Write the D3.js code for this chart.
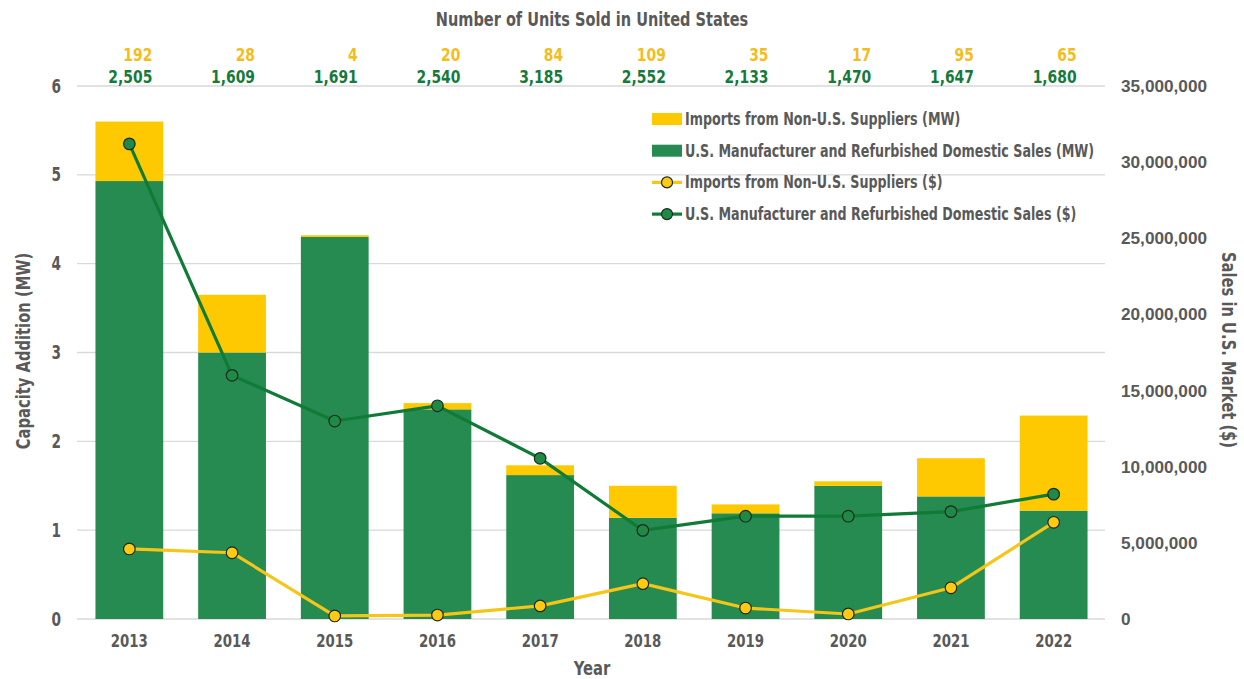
<!DOCTYPE html>
<html><head><meta charset="utf-8">
<script src="https://cdn.jsdelivr.net/npm/d3@7"></script>
<style>
body{margin:0;background:#fff;}
text{font-family:'DejaVu Sans Condensed','Liberation Sans Narrow',sans-serif;font-weight:bold;}
</style></head><body>
<svg id="c" width="1244" height="679"></svg>
<script>
const years = ["2013","2014","2015","2016","2017","2018","2019","2020","2021","2022"];
const domesticMW = [4.93, 3.00, 4.30, 2.36, 1.62, 1.14, 1.19, 1.50, 1.38, 1.22];
const importsMW  = [0.67, 0.65, 0.02, 0.07, 0.11, 0.36, 0.10, 0.05, 0.43, 1.07];
const domesticUSD = [31200000, 16000000, 13000000, 14000000, 10550000, 5820000, 6750000, 6750000, 7050000, 8200000];
const importsUSD  = [4600000, 4350000, 200000, 260000, 860000, 2320000, 720000, 330000, 2050000, 6350000];
const unitsImports  = [192, 28, 4, 20, 84, 109, 35, 17, 95, 65];
const unitsDomestic = [2505, 1609, 1691, 2540, 3185, 2552, 2133, 1470, 1647, 1680];
const leftTicks = [0,1,2,3,4,5,6];
const rightTicks = [0,5000000,10000000,15000000,20000000,25000000,30000000,35000000];

const C = {green:"#268b50", yellow:"#ffc900", lineGreen:"#0f7b36", lineYellow:"#f5c518",
  grey:"#595959", grid:"#d9d9d9", numYellow:"#f2bd1d", numGreen:"#167a3c"};

const svg = d3.select("#c");
const L = 78, R = 1105, T = 86, B = 619;
const x = d3.scaleBand().domain(years).range([L, R]).paddingInner(0.34).paddingOuter(0.17);
const yL = d3.scaleLinear().domain([0,6]).range([B, T]);
const yR = d3.scaleLinear().domain([0,35000000]).range([B, T]);
const cx = d => x(d) + x.bandwidth()/2;

// condensed text helper: horizontal squeeze around anchor
function ctext(g, px, py, str, opt){
  return g.append("text")
    .attr("transform", `translate(${px},${py})` + (opt.rot ? ` rotate(${opt.rot})` : "") + ` scale(${opt.sx||0.82},1)`)
    .attr("dy","0.35em").attr("text-anchor", opt.anchor||"middle")
    .attr("fill", opt.fill||C.grey).attr("font-size", opt.size||18).text(str);
}

// gridlines
svg.append("g").selectAll("line").data(leftTicks).join("line")
  .attr("x1", L-1).attr("x2", R).attr("y1", d=>yL(d)).attr("y2", d=>yL(d))
  .attr("stroke", C.grid).attr("stroke-width", 1.3);

// left tick labels
const gl = svg.append("g");
leftTicks.forEach(d=>ctext(gl, 61, yL(d), d, {anchor:"end", size:19, sx:0.8}));

// right tick labels
svg.append("g").selectAll("text").data(rightTicks).join("text")
  .attr("x", 1121).attr("y", d=>yR(d)).attr("dy","0.35em").attr("text-anchor","start")
  .attr("fill", C.grey).attr("font-size", 17.2)
  .style("font-family","'Liberation Sans',Arial,sans-serif")
  .text(d=>d3.format(",")(d));

// bars
const stack = years.map((y,i)=>({y, d:domesticMW[i], m:importsMW[i]}));
svg.append("g").selectAll("rect").data(stack).join("rect")
  .attr("x", d=>x(d.y)).attr("width", x.bandwidth())
  .attr("y", d=>yL(d.d)).attr("height", d=>yL(0)-yL(d.d)).attr("fill", C.green);
svg.append("g").selectAll("rect").data(stack).join("rect")
  .attr("x", d=>x(d.y)).attr("width", x.bandwidth())
  .attr("y", d=>yL(d.d+d.m)).attr("height", d=>yL(d.d)-yL(d.d+d.m)).attr("fill", C.yellow);

// lines
const line = d3.line().x(d=>cx(d[0])).y(d=>yR(d[1]));
function drawLine(vals, col, fill){
  const pts = years.map((y,i)=>[y, vals[i]]);
  svg.append("path").attr("d", line(pts)).attr("fill","none").attr("stroke", col)
    .attr("stroke-width", 3.2).attr("stroke-linejoin","round");
  svg.append("g").selectAll("circle").data(pts).join("circle")
    .attr("cx", d=>cx(d[0])).attr("cy", d=>yR(d[1])).attr("r", 5.8)
    .attr("fill", fill).attr("stroke", "#1d2b1d").attr("stroke-width", 1.2);
}
drawLine(domesticUSD, C.lineGreen, "#1f8a45");
drawLine(importsUSD, C.lineYellow, "#ffc914");

// x tick labels
const gx = svg.append("g");
years.forEach(d=>ctext(gx, cx(d), 641, d, {size:18.5, sx:0.8}));

// axis titles
ctext(svg, 592, 668, "Year", {size:20, sx:0.82});
ctext(svg, 23, 351, "Capacity Addition (MW)", {size:20, sx:0.82, rot:-90});
ctext(svg, 1229, 350, "Sales in U.S. Market ($)", {size:20, sx:0.82, rot:90});

// top title + unit counts
ctext(svg, 592, 19, "Number of Units Sold in United States", {size:19, sx:0.85});
const gu = svg.append("g");
unitsImports.forEach((d,i)=>ctext(gu, cx(years[i])+23, 55, d3.format(",")(d), {anchor:"end", size:18, sx:0.86, fill:C.numYellow}));
unitsDomestic.forEach((d,i)=>ctext(gu, cx(years[i])+23, 77, d3.format(",")(d), {anchor:"end", size:18, sx:0.86, fill:C.numGreen}));

// legend
const legend = [
  {t:"Imports from Non-U.S. Suppliers (MW)", k:"bar", c:C.yellow},
  {t:"U.S. Manufacturer and Refurbished Domestic Sales (MW)", k:"bar", c:C.green},
  {t:"Imports from Non-U.S. Suppliers ($)", k:"line", c:C.lineYellow, f:"#ffc914"},
  {t:"U.S. Manufacturer and Refurbished Domestic Sales ($)", k:"line", c:C.lineGreen, f:"#1f8a45"}
];
const lg = svg.append("g");
legend.forEach((d,i)=>{
  const y = 119 + i*31.7;
  if(d.k==="bar"){
    lg.append("rect").attr("x",652).attr("y",y-6).attr("width",30).attr("height",12).attr("fill",d.c);
  } else {
    lg.append("line").attr("x1",652).attr("x2",682).attr("y1",y).attr("y2",y).attr("stroke",d.c).attr("stroke-width",3.2);
    lg.append("circle").attr("cx",667).attr("cy",y).attr("r",5.5).attr("fill",d.f).attr("stroke","#1d2b1d").attr("stroke-width",1.2);
  }
  ctext(lg, 685, y, d.t, {anchor:"start", size:17, sx:0.83});
});
</script></body></html>
